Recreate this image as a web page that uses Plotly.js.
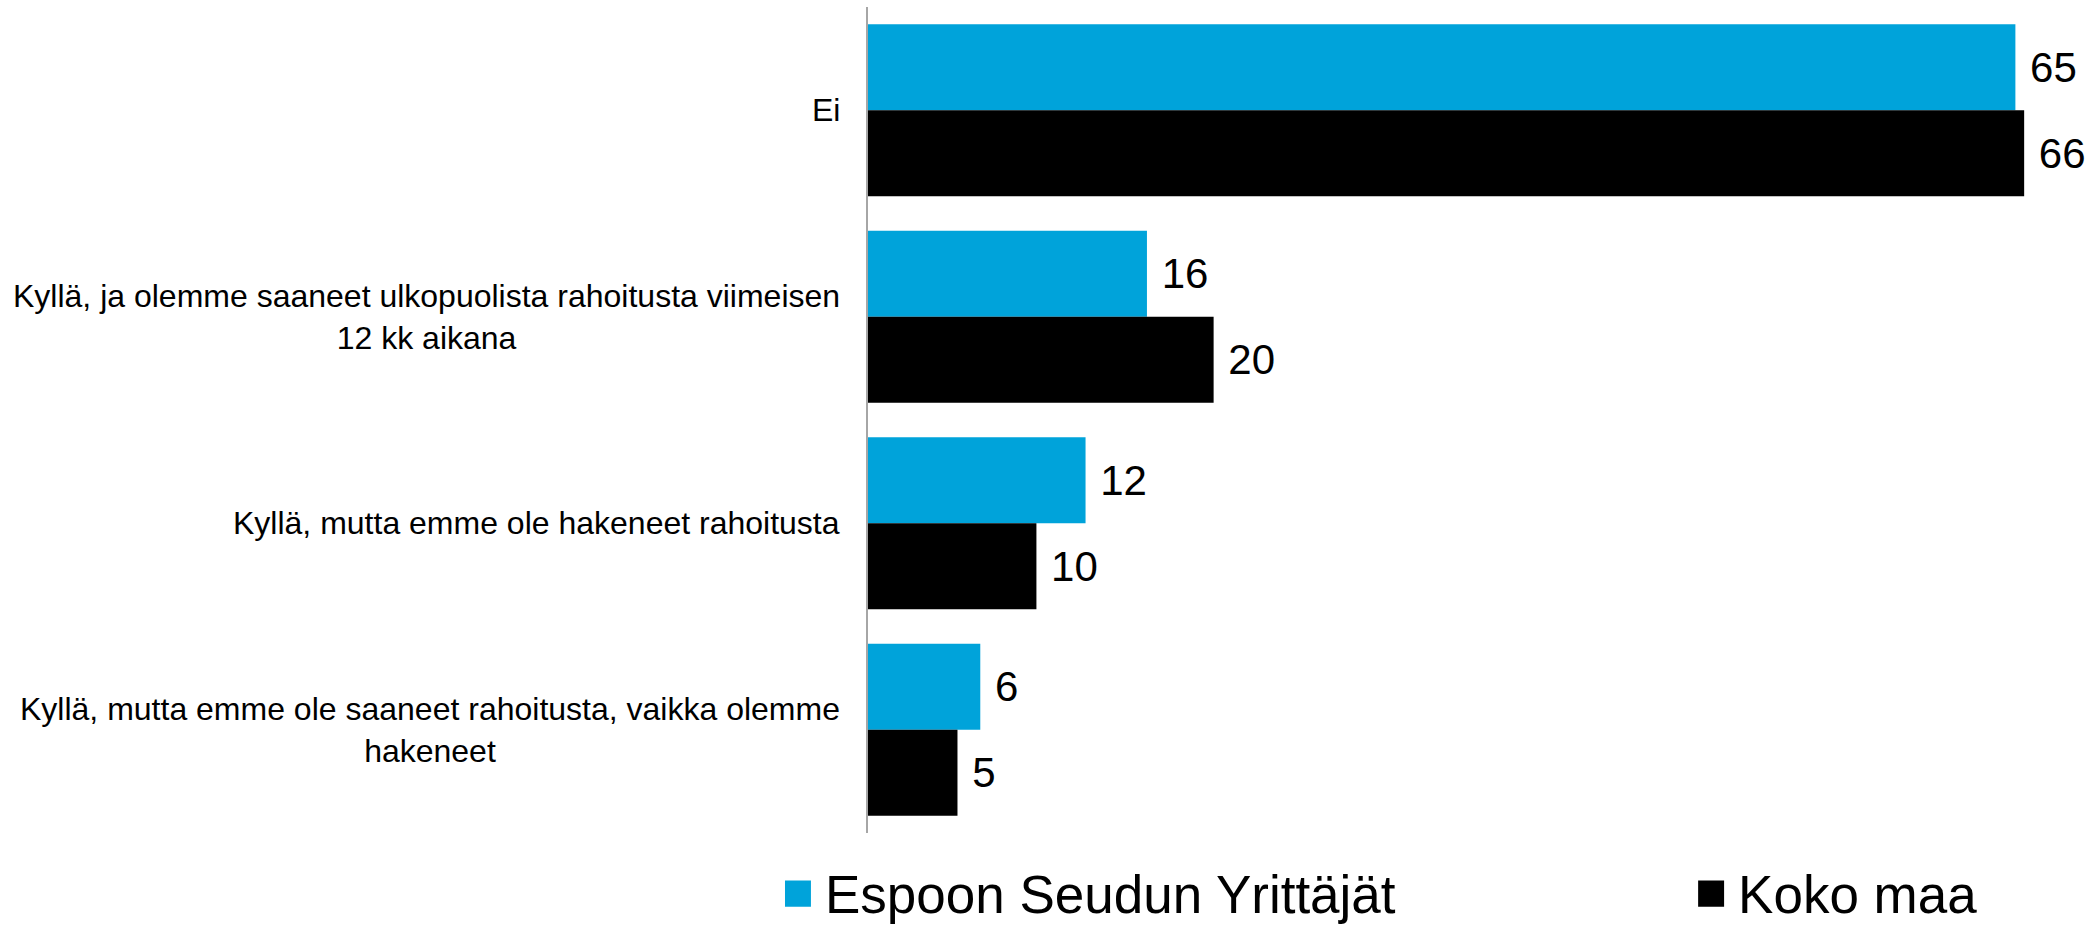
<!DOCTYPE html>
<html>
<head>
<meta charset="utf-8">
<script src="https://cdn.plot.ly/plotly-3.0.1.min.js"></script>
<style>
  html, body { margin: 0; padding: 0; background: #ffffff; }
  #chart { width: 2092px; height: 926px; }
</style>
</head>
<body>
<div id="chart"></div>
<script>
// Categories (top to bottom)
const categories = [
  "Ei",
  "Kyllä, ja olemme saaneet ulkopuolista rahoitusta viimeisen<br>12 kk aikana",
  "Kyllä, mutta emme ole hakeneet rahoitusta",
  "Kyllä, mutta emme ole saaneet rahoitusta, vaikka olemme<br>hakeneet"
];
// Series names
const seriesNames = ["Espoon Seudun Yrittäjät", "Koko maa"];
// Series values (%); labels show rounded values
const espooValues = [65.4, 15.9, 12.4, 6.4];
const kokoMaaValues = [65.9, 19.7, 9.6, 5.1];

const FONT = "Arial, 'Liberation Sans', sans-serif";
const BLUE = "#00A3DA";
const BLACK = "#000000";

const traces = [
  {
    type: "bar", orientation: "h", name: seriesNames[0], legend: "legend",
    y: categories, x: espooValues,
    marker: { color: BLUE },
    texttemplate: "\u00a0%{x:.0f}", textposition: "outside", cliponaxis: false,
    textfont: { family: FONT, size: 42, color: "#000" },
    hoverinfo: "skip"
  },
  {
    type: "bar", orientation: "h", name: seriesNames[1], legend: "legend2",
    y: categories, x: kokoMaaValues,
    marker: { color: BLACK },
    texttemplate: "\u00a0%{x:.0f}", textposition: "outside", cliponaxis: false,
    textfont: { family: FONT, size: 42, color: "#000" },
    hoverinfo: "skip"
  }
];

const annotations = categories.map(c => ({
  xref: "paper", yref: "y", x: 0, y: c,
  xanchor: "right", yanchor: "middle", align: "center",
  xshift: -26, showarrow: false, text: c,
  font: { family: FONT, size: 32, color: "#000" }
}));

const legendBase = {
  orientation: "h", xref: "container", yref: "container",
  xanchor: "left", y: 0.036, yanchor: "middle",
  font: { family: FONT, size: 53, color: "#000" },
  bgcolor: "rgba(0,0,0,0)", borderwidth: 0
};

const layout = {
  width: 2092, height: 926,
  margin: { l: 868, r: 31, t: 7, b: 93, pad: 0, autoexpand: false },
  paper_bgcolor: "#ffffff", plot_bgcolor: "#ffffff",
  barmode: "group", bargap: 0.167, bargroupgap: 0,
  font: { family: FONT, color: "#000" },
  xaxis: {
    range: [0, 68], showgrid: false, zeroline: false, showline: false,
    showticklabels: false, ticks: "", fixedrange: true
  },
  yaxis: {
    type: "category", autorange: "reversed", showgrid: false, zeroline: false,
    showline: true, linecolor: "#A6A6A6", linewidth: 2,
    showticklabels: false, ticks: "", fixedrange: true
  },
  showlegend: true,
  legend: Object.assign({}, legendBase, { x: 0.3752 }),
  legend2: Object.assign({}, legendBase, { x: 0.8117 }),
  annotations: annotations
};

Plotly.newPlot("chart", traces, layout, { staticPlot: true, displayModeBar: false }).then(gd => {
  gd.querySelectorAll(".legendpoints path").forEach(p => {
    const t = p.getAttribute("transform") || "";
    p.setAttribute("transform", t + " translate(-7,1) scale(2.17)");
  });
});
</script>
</body>
</html>
